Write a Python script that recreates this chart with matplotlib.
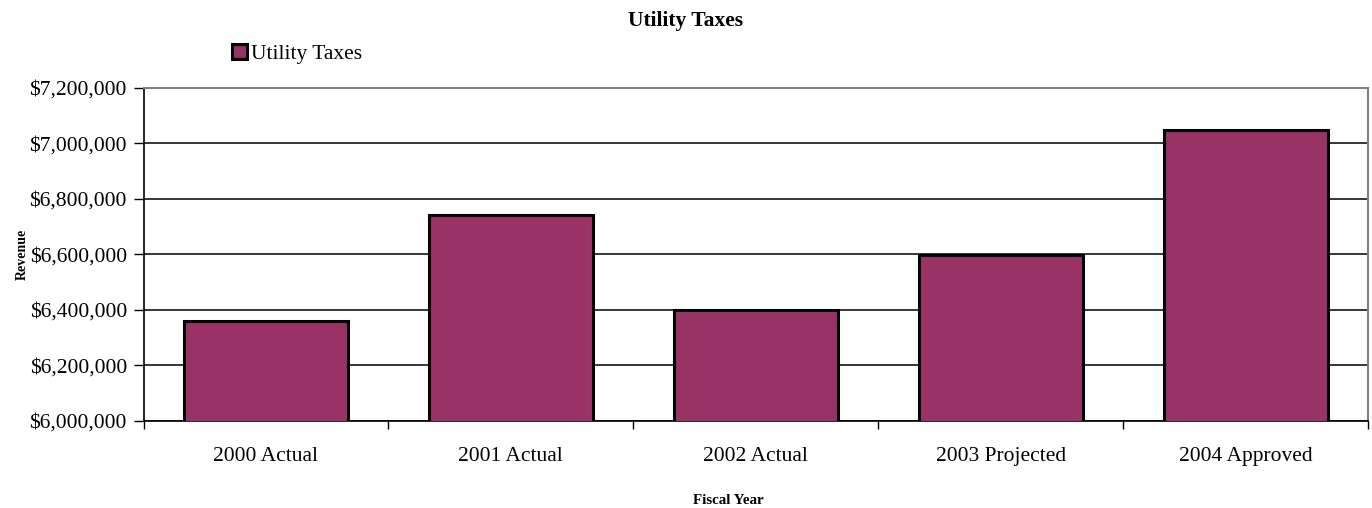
import matplotlib
matplotlib.use("Agg")
import matplotlib.pyplot as plt
from matplotlib.ticker import FuncFormatter, MultipleLocator

categories = ["2000 Actual", "2001 Actual", "2002 Actual", "2003 Projected", "2004 Approved"]
values = [6359000, 6743000, 6400000, 6598000, 7049000]
series_name = "Utility Taxes"

plt.rcParams['font.family'] = ['Liberation Serif', 'DejaVu Serif']

fig = plt.figure(figsize=(13.72, 5.08), dpi=100)
ax = fig.add_axes([143.5/1372, 1 - 421/508, (1368 - 143.5)/1372, (421 - 88)/508])

x = list(range(len(categories)))
ax.bar(x, values, width=0.67, color="#993366", edgecolor="black", linewidth=2.2,
       label=series_name, zorder=3)

ax.set_xlim(-0.5, len(categories) - 0.5)
ax.set_ylim(6000000, 7200000)
ax.yaxis.set_major_locator(MultipleLocator(200000))
ax.yaxis.set_major_formatter(FuncFormatter(lambda v, p: "${:,.0f}".format(v)))
ax.grid(axis="y", color="black", linewidth=1.1, zorder=0)
ax.set_axisbelow(True)

ax.set_xticks(x)
ax.set_xticklabels(categories)
ax.set_xticks([i + 0.5 for i in range(-1, len(categories))], minor=True)
ax.tick_params(axis="x", which="major", length=0, pad=19, labelsize=15.5)
ax.tick_params(axis="x", which="minor", length=6, width=1, color="black")
ax.tick_params(axis="y", which="major", length=7, width=1, labelsize=15.5, pad=5)

for s in ["top", "right"]:
    ax.spines[s].set_color("#808080")
    ax.spines[s].set_linewidth(1.5)
for s in ["left", "bottom"]:
    ax.spines[s].set_color("black")
    ax.spines[s].set_linewidth(1.2)

fig.text(685/1372, 1 - 21/508, "Utility Taxes", ha="center", va="center",
         fontsize=15.5, fontweight="bold")
fig.text(728/1372, 1 - 500/508, "Fiscal Year", ha="center", va="center",
         fontsize=10.8, fontweight="bold")
fig.text(22/1372, 1 - 254/508, "Revenue", ha="center", va="center",
         fontsize=10, fontweight="bold", rotation=90)

leg = fig.legend(loc="center left", bbox_to_anchor=(232/1372, 1 - 54/508),
                 frameon=False, fontsize=15.5, handlelength=0.7, handleheight=0.7,
                 handletextpad=0.18, borderaxespad=0, borderpad=0)

fig.savefig("out.png", dpi=100)
